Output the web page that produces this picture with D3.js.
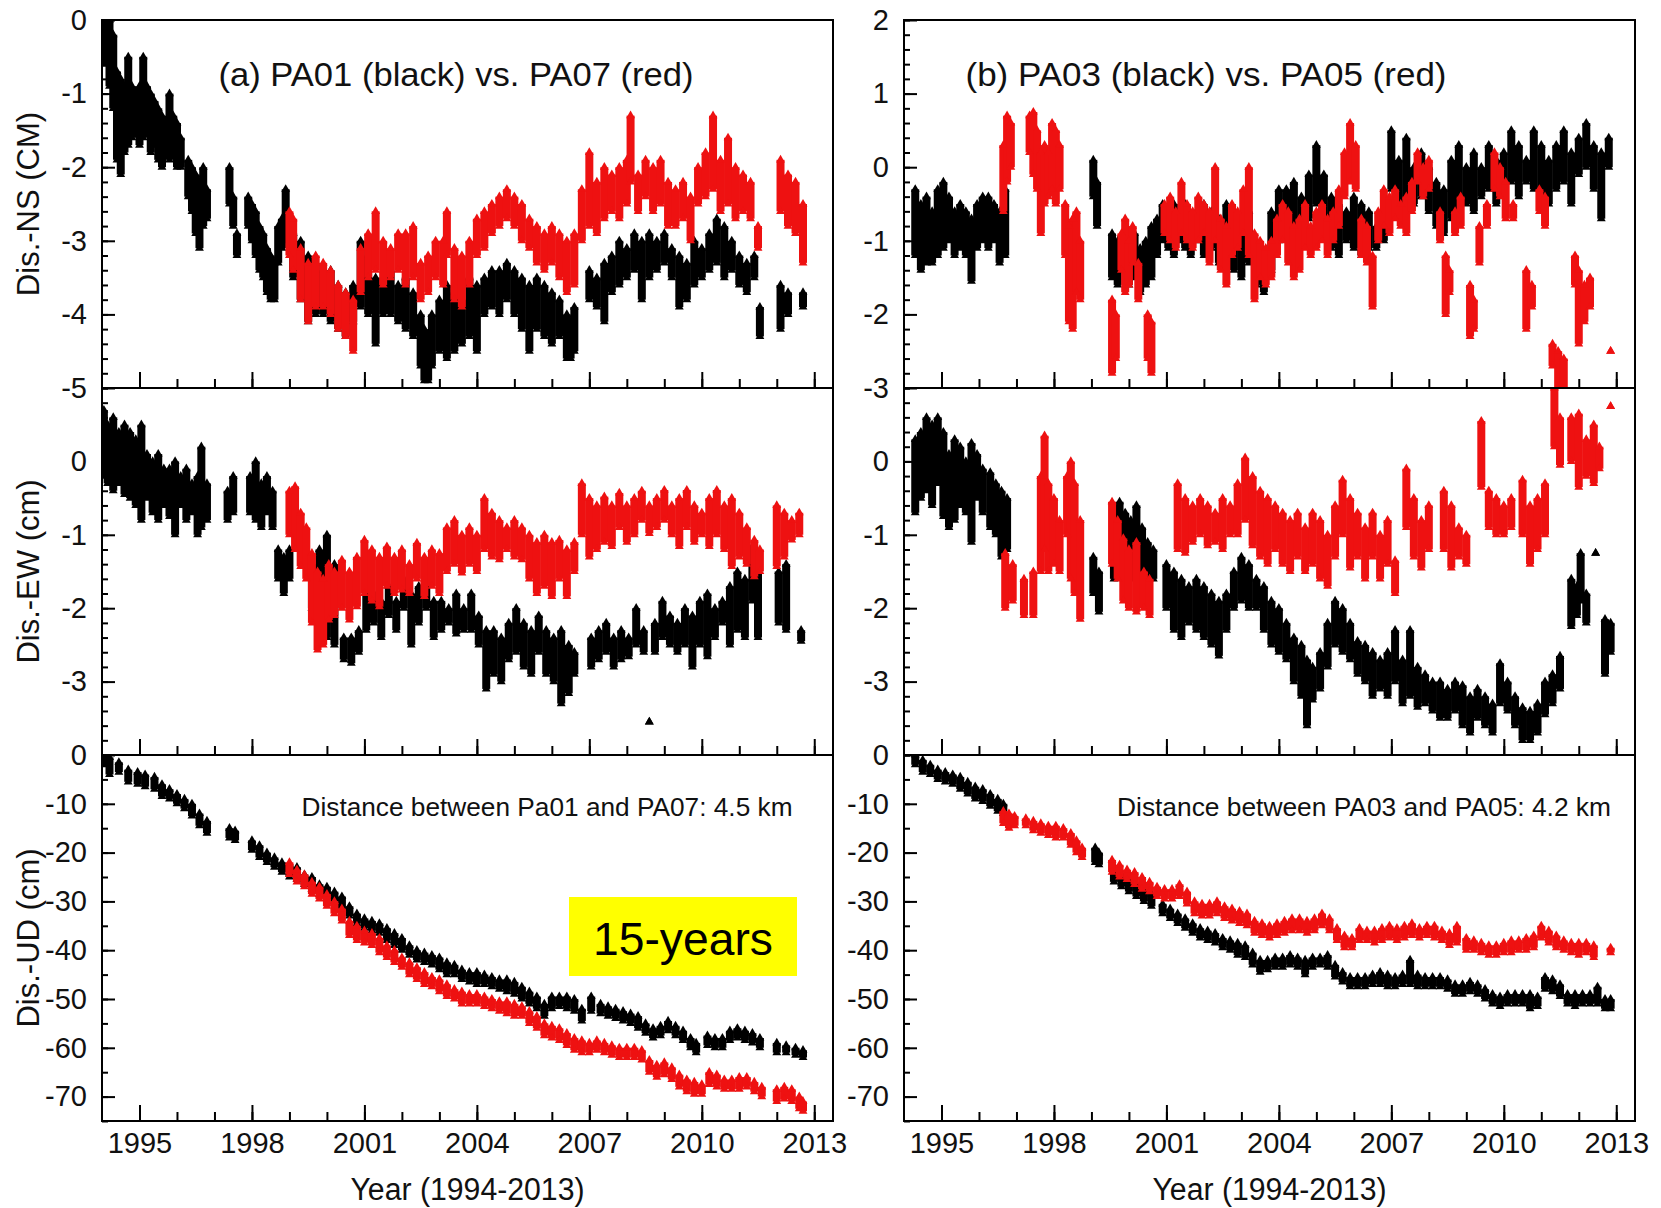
<!DOCTYPE html>
<html lang="en">
<head>
<meta charset="UTF-8">
<title>PA01/PA07 and PA03/PA05 displacement</title>
<script src="https://d3js.org/d3.v7.min.js"></script>
<style>
  body { margin: 0; background: #fff; }
  svg { display: block; }
  text { font-family: "Liberation Sans", Arial, sans-serif; fill: #111; }
</style>
</head>
<body>
<svg width="1661" height="1208"></svg>
<script>
// tick labels
const xTickYears = [1995, 1998, 2001, 2004, 2007, 2010, 2013];
const nsLeftTicks = [0, -1, -2, -3, -4, -5];
const nsRightTicks = [2, 1, 0, -1, -2, -3];
const ewTicks = [0, -1, -2, -3];
const udTicks = [0, -10, -20, -30, -40, -50, -60, -70];

// each entry: [year, value at one end of the scatter, value at the other end]
const pa01NS = [
  [1994.1,0,-0.6],[1994.2,0,-0.9],[1994.3,-0.2,-1.2],[1994.4,-0.7,-1.9],[1994.5,-0.8,-2.1],[1994.6,-0.9,-1.8],
  [1994.7,-0.5,-1.7],[1994.8,-0.9,-1.6],[1994.9,-1.0,-1.5],[1995.0,-0.9,-1.7],[1995.1,-0.5,-1.6],[1995.2,-0.9,-1.5],
  [1995.3,-1.0,-1.8],[1995.4,-1.1,-1.7],[1995.5,-1.2,-1.9],[1995.6,-1.3,-2.0],[1995.8,-1.0,-1.9],[1995.9,-1.3,-1.8],
  [1996.0,-1.4,-2.0],[1996.1,-1.6,-2.0],[1996.3,-1.9,-2.4],[1996.4,-2.0,-2.6],[1996.5,-2.1,-2.9],[1996.6,-2.2,-3.1],
  [1996.7,-2.0,-2.8],[1996.8,-2.3,-2.7],[1997.4,-2.0,-2.5],[1997.5,-2.4,-2.8],[1997.6,-2.9,-3.2],[1997.9,-2.4,-2.8],
  [1998.0,-2.5,-3.0],[1998.1,-2.6,-3.2],[1998.2,-2.8,-3.4],[1998.3,-2.9,-3.5],[1998.4,-3.1,-3.7],[1998.5,-3.2,-3.8],
  [1998.6,-3.3,-3.8],[1998.7,-2.8,-3.3],[1998.8,-2.7,-3.1],[1998.9,-2.3,-3.0],[1999.1,-2.9,-3.5],[1999.3,-3.0,-3.8],
  [1999.5,-3.2,-4.1],[1999.7,-3.3,-4.0],[1999.9,-3.4,-4.0],[2000.1,-3.4,-4.1],[2000.3,-3.6,-4.2],[2000.5,-3.7,-4.3],
  [2000.7,-3.6,-4.1],[2000.9,-3.0,-3.9],[2001.1,-3.2,-4.0],[2001.3,-3.5,-4.4],[2001.5,-3.5,-4.0],[2001.7,-3.4,-4.0],
  [2001.9,-3.6,-4.1],[2002.1,-3.5,-4.2],[2002.3,-3.7,-4.3],[2002.5,-4.0,-4.7],[2002.6,-4.2,-4.9],[2002.7,-4.3,-4.9],
  [2002.8,-4.0,-4.7],[2003.0,-3.8,-4.5],[2003.2,-3.6,-4.6],[2003.4,-3.7,-4.5],[2003.6,-3.8,-4.4],[2003.8,-3.5,-4.3],
  [2004.0,-3.6,-4.5],[2004.2,-3.5,-4.0],[2004.4,-3.4,-3.9],[2004.6,-3.4,-4.0],[2004.8,-3.3,-3.8],[2005.0,-3.4,-4.0],
  [2005.2,-3.5,-4.2],[2005.4,-3.6,-4.5],[2005.6,-3.5,-4.2],[2005.8,-3.6,-4.3],[2006.0,-3.7,-4.4],[2006.2,-3.8,-4.3],
  [2006.4,-4.0,-4.6],[2006.5,-4.1,-4.6],[2006.6,-3.9,-4.5],[2007.0,-3.4,-3.8],[2007.2,-3.5,-3.9],[2007.4,-3.3,-4.1],
  [2007.6,-3.2,-3.7],[2007.8,-3.0,-3.6],[2008.0,-3.1,-3.5],[2008.2,-2.9,-3.4],[2008.4,-3.0,-3.8],[2008.6,-2.9,-3.5],
  [2008.8,-3.0,-3.4],[2009.0,-2.9,-3.3],[2009.2,-3.1,-3.5],[2009.4,-3.2,-3.9],[2009.6,-3.3,-3.8],[2009.8,-3.0,-3.6],
  [2010.0,-3.1,-3.5],[2010.2,-2.9,-3.4],[2010.4,-2.7,-3.3],[2010.6,-2.8,-3.5],[2010.8,-3.0,-3.4],[2011.0,-3.2,-3.6],
  [2011.2,-3.3,-3.7],[2011.4,-3.2,-3.5],[2011.55,-3.9,-4.3],[2012.1,-3.6,-4.2],[2012.3,-3.7,-4.0],[2012.7,-3.7,-3.9]
];
const pa07NS = [
  [1999.0,-2.6,-3.2],[1999.1,-2.7,-3.4],[1999.3,-3.1,-3.8],[1999.5,-3.3,-4.1],[1999.7,-3.2,-3.9],[1999.9,-3.3,-3.9],
  [2000.1,-3.4,-4.0],[2000.3,-3.6,-4.2],[2000.5,-3.7,-4.3],[2000.7,-3.8,-4.5],[2000.9,-3.1,-3.7],[2001.1,-2.9,-3.5],
  [2001.3,-2.6,-3.4],[2001.5,-3.0,-3.6],[2001.7,-3.1,-3.5],[2001.9,-2.9,-3.4],[2002.1,-2.9,-3.6],[2002.3,-2.8,-3.5],
  [2002.5,-3.3,-3.8],[2002.7,-3.2,-3.7],[2002.9,-3.0,-3.5],[2003.1,-3.0,-3.6],[2003.2,-2.6,-3.2],[2003.4,-3.1,-3.8],
  [2003.6,-3.2,-3.9],[2003.8,-3.0,-3.6],[2004.0,-2.7,-3.2],[2004.2,-2.6,-3.1],[2004.4,-2.5,-2.9],[2004.6,-2.4,-2.8],
  [2004.8,-2.3,-2.7],[2005.0,-2.4,-2.8],[2005.2,-2.5,-3.0],[2005.4,-2.7,-3.1],[2005.6,-2.8,-3.3],[2005.8,-2.9,-3.4],
  [2006.0,-2.8,-3.3],[2006.2,-2.9,-3.5],[2006.4,-3.0,-3.7],[2006.6,-2.9,-3.6],[2006.8,-2.3,-3.0],[2007.0,-1.8,-2.8],
  [2007.2,-2.2,-2.9],[2007.4,-2.0,-2.7],[2007.6,-2.1,-2.6],[2007.8,-2.0,-2.7],[2008.0,-1.9,-2.5],[2008.1,-1.3,-2.2],
  [2008.3,-2.1,-2.6],[2008.5,-1.9,-2.4],[2008.7,-2.0,-2.6],[2008.9,-1.9,-2.5],[2009.1,-2.2,-2.8],[2009.3,-2.3,-2.8],
  [2009.5,-2.2,-2.7],[2009.7,-2.4,-3.0],[2009.9,-2.0,-2.5],[2010.1,-1.8,-2.4],[2010.3,-1.3,-2.3],[2010.5,-1.9,-2.6],
  [2010.7,-1.6,-2.5],[2010.9,-2.0,-2.7],[2011.1,-2.1,-2.6],[2011.3,-2.2,-2.7],[2011.5,-2.8,-3.1],[2012.1,-1.9,-2.6],
  [2012.3,-2.1,-2.8],[2012.5,-2.2,-2.9],[2012.7,-2.5,-3.3]
];
const pa03NS = [
  [1994.3,-0.3,-1.2],[1994.45,-0.5,-1.4],[1994.6,-0.4,-1.3],[1994.75,-0.6,-1.3],[1994.9,-0.3,-1.2],[1995.05,-0.2,-1.1],
  [1995.2,-0.4,-1.0],[1995.35,-0.6,-1.2],[1995.5,-0.5,-1.1],[1995.65,-0.6,-1.2],[1995.8,-0.7,-1.55],[1995.95,-0.5,-1.1],
  [1996.1,-0.4,-1.0],[1996.25,-0.4,-1.1],[1996.4,-0.5,-1.0],[1996.55,-0.6,-1.3],[1996.7,-0.3,-1.2],[1999.05,0.1,-0.4],
  [1999.15,-0.2,-0.8],[1999.55,-0.9,-1.5],[1999.7,-1.0,-1.6],[1999.85,-1.1,-1.4],[2000.0,-1.0,-1.6],[2000.15,-0.9,-1.5],
  [2000.3,-1.1,-1.7],[2000.45,-1.0,-1.6],[2000.6,-0.8,-1.5],[2000.75,-0.7,-1.2],[2000.9,-0.5,-1.0],[2001.05,-0.6,-1.1],
  [2001.2,-0.5,-1.2],[2001.35,-0.6,-1.0],[2001.5,-0.5,-1.1],[2001.65,-0.7,-1.2],[2001.8,-0.6,-1.0],[2002.0,-0.5,-1.2],
  [2002.2,-0.6,-1.1],[2002.4,-0.7,-1.3],[2002.6,-0.5,-1.1],[2002.8,-0.7,-1.4],[2003.0,-0.8,-1.5],[2003.2,-0.6,-1.3],
  [2003.4,-1.0,-1.6],[2003.6,-1.2,-1.7],[2003.8,-0.6,-1.4],[2004.0,-0.3,-1.0],[2004.2,-0.3,-0.9],[2004.4,-0.2,-0.8],
  [2004.6,-0.4,-1.0],[2004.8,-0.1,-0.7],[2005.0,0.3,-0.5],[2005.2,-0.1,-0.8],[2005.4,-0.4,-1.1],[2005.6,-0.5,-1.2],
  [2005.8,-0.6,-1.0],[2006.0,-0.4,-1.1],[2006.2,-0.5,-1.2],[2006.4,-0.6,-1.1],[2006.6,-0.8,-1.1],[2006.8,-0.6,-1.0],
  [2007.0,0.5,-0.3],[2007.2,0.1,-0.5],[2007.4,0.4,-0.6],[2007.6,0.0,-0.5],[2007.8,0.2,-0.4],[2008.0,0.0,-0.6],
  [2008.2,-0.2,-0.8],[2008.4,-0.3,-0.9],[2008.6,0.1,-0.7],[2008.8,0.3,-0.6],[2009.0,0.0,-0.5],[2009.2,0.2,-0.6],
  [2009.4,0.0,-0.4],[2009.6,0.3,-0.3],[2009.8,0.1,-0.5],[2010.0,0.2,-0.3],[2010.2,0.5,-0.2],[2010.4,0.3,-0.4],
  [2010.6,0.1,-0.2],[2010.8,0.5,-0.3],[2011.0,0.3,-0.4],[2011.2,0.1,-0.5],[2011.4,0.3,-0.3],[2011.6,0.5,-0.2],
  [2011.8,0.2,-0.5],[2012.0,0.4,-0.1],[2012.2,0.6,0.0],[2012.4,0.3,-0.3],[2012.6,0.2,-0.7],[2012.8,0.4,0.0]
];
const pa05NS = [
  [1996.65,0.3,-0.6],[1996.75,0.7,-0.2],[1996.85,0.6,0.0],[1997.35,0.7,0.2],[1997.45,0.75,-0.1],[1997.55,0.5,-0.3],
  [1997.65,0.2,-0.9],[1997.75,0.3,-0.5],[1997.85,0.2,-0.4],[1997.95,0.6,-0.3],[1998.05,0.5,-0.5],[1998.15,0.3,-0.3],
  [1998.3,-0.5,-1.2],[1998.4,-0.8,-2.1],[1998.5,-0.7,-2.2],[1998.6,-0.6,-1.7],[1998.7,-1.0,-1.8],[1999.55,-1.8,-2.8],
  [1999.65,-2.0,-2.6],[1999.8,-0.9,-1.4],[1999.9,-0.7,-1.7],[2000.0,-1.0,-1.6],[2000.1,-0.8,-1.3],[2000.25,-1.3,-1.8],
  [2000.5,-2.0,-2.6],[2000.6,-2.1,-2.8],[2000.95,-0.5,-0.9],[2001.1,-0.4,-1.0],[2001.25,-0.6,-1.1],[2001.4,-0.2,-0.9],
  [2001.55,-0.5,-1.0],[2001.7,-0.6,-1.1],[2001.85,-0.4,-1.0],[2002.0,-0.5,-0.9],[2002.15,-0.6,-1.3],[2002.3,0.0,-1.0],
  [2002.45,-0.7,-1.4],[2002.6,-0.8,-1.6],[2002.75,-0.5,-1.2],[2002.9,-0.6,-1.1],[2003.05,-0.3,-0.9],[2003.2,0.0,-1.2],
  [2003.35,-0.9,-1.8],[2003.5,-1.0,-1.5],[2003.65,-1.1,-1.6],[2003.8,-1.0,-1.5],[2003.95,-0.7,-1.2],[2004.1,-0.5,-1.0],
  [2004.25,-0.6,-1.3],[2004.4,-0.8,-1.5],[2004.55,-0.7,-1.4],[2004.7,-0.5,-1.1],[2004.85,-0.8,-1.2],[2005.0,-0.6,-1.1],
  [2005.15,-0.5,-1.0],[2005.3,-0.7,-1.2],[2005.45,-0.6,-1.0],[2005.6,-0.3,-0.8],[2005.75,0.2,-0.4],[2005.9,0.6,-0.2],
  [2006.05,0.3,-0.3],[2006.2,-0.7,-1.2],[2006.35,-0.8,-1.3],[2006.5,-1.2,-1.9],[2006.65,-0.6,-1.0],[2006.8,-0.3,-0.8],
  [2006.95,-0.4,-0.9],[2007.1,-0.3,-0.7],[2007.25,-0.5,-0.8],[2007.4,-0.4,-0.9],[2007.55,-0.2,-0.6],[2007.7,0.2,-0.2],
  [2007.85,0.0,-0.4],[2008.0,0.1,-0.3],[2008.3,-0.6,-1.0],[2008.45,-1.2,-2.0],[2008.55,-1.4,-1.7],[2008.7,-0.6,-0.9],
  [2008.85,-0.4,-0.8],[2009.1,-1.6,-2.3],[2009.2,-1.8,-2.2],[2009.35,-0.8,-1.3],[2009.55,-0.5,-0.8],[2009.75,0.2,-0.3],
  [2009.9,0.0,-0.4],[2010.05,-0.2,-0.7],[2010.25,-0.5,-0.7],[2010.6,-1.4,-2.2],[2010.75,-1.6,-1.9],[2010.95,-0.3,-0.6],
  [2011.1,-0.4,-0.8],[2011.3,-2.4,-2.7],[2011.45,-2.5,-3.0],[2011.6,-2.6,-3.2],[2011.9,-1.2,-1.6],[2012.0,-1.4,-2.4],
  [2012.15,-1.6,-2.1],[2012.3,-1.5,-1.9],[2012.85,-2.5,-2.5]
];
const pa01EW = [
  [1994.05,0.7,-0.2],[1994.15,0.5,-0.3],[1994.3,0.6,-0.4],[1994.45,0.4,-0.3],[1994.6,0.5,-0.45],[1994.75,0.4,-0.5],
  [1994.9,0.3,-0.6],[1995.05,0.5,-0.8],[1995.2,0.1,-0.5],[1995.35,0.0,-0.7],[1995.5,0.1,-0.8],[1995.65,-0.1,-0.6],
  [1995.8,-0.1,-0.75],[1995.95,0.0,-1.0],[1996.1,-0.2,-0.6],[1996.25,-0.1,-0.8],[1996.4,-0.3,-0.7],[1996.55,-0.2,-1.0],
  [1996.65,0.2,-0.9],[1996.8,-0.3,-0.8],[1997.35,-0.4,-0.8],[1997.5,-0.2,-0.7],[1997.95,-0.2,-0.7],[1998.1,0.0,-0.8],
  [1998.25,-0.3,-0.9],[1998.4,-0.2,-0.7],[1998.55,-0.4,-0.9],[1998.7,-1.2,-1.6],[1998.85,-1.3,-1.8],[1999.0,-1.2,-1.6],
  [1999.6,-1.4,-2.0],[1999.8,-1.2,-2.2],[2000.0,-1.0,-2.4],[2000.2,-1.4,-2.5],[2000.45,-2.4,-2.7],[2000.65,-2.4,-2.75],
  [2000.85,-2.3,-2.6],[2001.05,-1.7,-2.3],[2001.25,-1.8,-2.2],[2001.45,-1.9,-2.4],[2001.65,-1.7,-2.1],[2001.85,-1.9,-2.3],
  [2002.05,-1.6,-2.0],[2002.25,-1.8,-2.5],[2002.45,-1.7,-2.2],[2002.65,-1.6,-2.0],[2002.85,-1.9,-2.4],[2003.05,-1.9,-2.3],
  [2003.25,-2.0,-2.2],[2003.45,-1.8,-2.35],[2003.65,-2.0,-2.3],[2003.85,-1.8,-2.3],[2004.05,-2.1,-2.5],[2004.25,-2.3,-3.1],
  [2004.45,-2.3,-2.9],[2004.65,-2.4,-3.0],[2004.85,-2.2,-2.7],[2005.05,-2.0,-2.6],[2005.25,-2.2,-2.8],[2005.45,-2.3,-2.9],
  [2005.65,-2.1,-2.6],[2005.85,-2.3,-2.9],[2006.05,-2.4,-3.0],[2006.25,-2.3,-3.3],[2006.45,-2.5,-3.16],[2006.6,-2.6,-2.9],
  [2007.05,-2.4,-2.8],[2007.25,-2.3,-2.7],[2007.45,-2.2,-2.6],[2007.65,-2.4,-2.8],[2007.85,-2.3,-2.7],[2008.05,-2.4,-2.66],
  [2008.25,-2.0,-2.5],[2008.45,-2.3,-2.6],[2008.6,-3.55,-3.55],[2008.75,-2.2,-2.6],[2008.95,-1.9,-2.4],[2009.15,-2.1,-2.5],
  [2009.35,-2.2,-2.6],[2009.55,-2.0,-2.5],[2009.75,-2.1,-2.8],[2009.95,-1.9,-2.5],[2010.15,-1.8,-2.66],[2010.35,-2.0,-2.4],
  [2010.55,-1.9,-2.2],[2010.75,-1.7,-2.5],[2010.95,-1.5,-2.3],[2011.15,-1.6,-2.4],[2011.35,-1.16,-1.9],[2011.5,-1.4,-2.4],
  [2012.05,-1.5,-2.2],[2012.25,-1.4,-2.3],[2012.65,-2.3,-2.45]
];
const pa07EW = [
  [1999.0,-0.4,-1.0],[1999.15,-0.34,-1.2],[1999.3,-0.7,-1.43],[1999.45,-0.9,-1.6],[1999.6,-1.25,-2.2],[1999.75,-1.5,-2.57],
  [1999.9,-1.6,-2.5],[2000.05,-1.4,-2.16],[2000.2,-1.5,-2.1],[2000.4,-1.34,-2.0],[2000.6,-1.5,-2.16],[2000.8,-1.3,-1.98],
  [2001.0,-1.07,-1.8],[2001.2,-1.2,-1.9],[2001.4,-1.3,-1.98],[2001.6,-1.16,-1.7],[2001.8,-1.3,-1.8],[2002.0,-1.2,-1.75],
  [2002.2,-1.4,-1.8],[2002.4,-1.11,-1.6],[2002.6,-1.3,-1.84],[2002.8,-1.2,-1.7],[2003.0,-1.25,-1.8],[2003.2,-0.9,-1.5],
  [2003.4,-0.8,-1.4],[2003.6,-1.0,-1.52],[2003.8,-0.9,-1.4],[2004.0,-1.0,-1.5],[2004.2,-0.5,-1.2],[2004.4,-0.7,-1.3],
  [2004.6,-0.8,-1.34],[2004.8,-0.9,-1.2],[2005.0,-0.8,-1.3],[2005.2,-0.9,-1.34],[2005.4,-1.0,-1.6],[2005.6,-1.1,-1.8],
  [2005.8,-1.0,-1.7],[2006.0,-1.1,-1.84],[2006.2,-1.07,-1.6],[2006.4,-1.2,-1.84],[2006.6,-1.1,-1.5],[2006.8,-0.3,-1.0],
  [2007.0,-0.5,-1.3],[2007.2,-0.6,-1.2],[2007.4,-0.48,-1.1],[2007.6,-0.6,-1.16],[2007.8,-0.43,-0.9],[2008.0,-0.6,-1.1],
  [2008.2,-0.5,-1.0],[2008.4,-0.4,-0.8],[2008.6,-0.6,-0.98],[2008.8,-0.5,-0.9],[2009.0,-0.39,-0.8],[2009.2,-0.6,-1.0],
  [2009.4,-0.5,-1.16],[2009.6,-0.39,-0.9],[2009.8,-0.6,-1.1],[2010.0,-0.7,-1.0],[2010.2,-0.5,-1.16],[2010.4,-0.39,-1.0],
  [2010.6,-0.6,-1.2],[2010.8,-0.5,-1.43],[2011.0,-0.7,-1.3],[2011.2,-0.9,-1.4],[2011.4,-1.07,-1.57],[2011.55,-1.2,-1.5],
  [2012.0,-0.6,-1.43],[2012.2,-0.7,-1.3],[2012.4,-0.8,-1.07],[2012.6,-0.7,-1.0]
];
const pa03EW = [
  [1994.3,0.3,-0.7],[1994.45,0.4,-0.5],[1994.6,0.6,-0.4],[1994.75,0.5,-0.6],[1994.9,0.6,-0.3],[1995.05,0.4,-0.75],
  [1995.2,0.1,-0.9],[1995.35,0.3,-0.8],[1995.5,0.2,-0.6],[1995.65,0.0,-0.7],[1995.8,0.25,-1.1],[1995.95,0.1,-0.5],
  [1996.1,-0.1,-0.7],[1996.3,-0.15,-0.9],[1996.45,-0.3,-1.0],[1996.6,-0.4,-1.3],[1996.75,-0.5,-1.2],[1999.05,-1.3,-1.8],
  [1999.2,-1.5,-2.05],[1999.6,-0.7,-1.6],[1999.75,-0.55,-1.5],[1999.9,-0.7,-1.8],[2000.05,-0.8,-1.6],[2000.2,-0.6,-1.4],
  [2000.35,-0.9,-1.7],[2000.5,-1.1,-1.8],[2000.65,-1.2,-1.6],[2001.0,-1.4,-2.0],[2001.2,-1.5,-2.3],[2001.4,-1.6,-2.4],
  [2001.6,-1.7,-2.2],[2001.8,-1.6,-2.3],[2002.0,-1.7,-2.4],[2002.2,-1.8,-2.5],[2002.4,-1.9,-2.65],[2002.6,-1.8,-2.3],
  [2002.8,-1.5,-2.0],[2003.0,-1.3,-1.9],[2003.2,-1.4,-2.0],[2003.4,-1.6,-2.0],[2003.6,-1.7,-2.3],[2003.8,-1.9,-2.5],
  [2004.0,-2.0,-2.6],[2004.2,-2.2,-2.7],[2004.4,-2.4,-3.0],[2004.6,-2.5,-3.2],[2004.75,-2.7,-3.6],[2004.9,-2.8,-3.25],
  [2005.1,-2.6,-3.1],[2005.3,-2.2,-2.8],[2005.5,-1.9,-2.5],[2005.7,-2.0,-2.6],[2005.9,-2.2,-2.7],[2006.1,-2.45,-2.9],
  [2006.3,-2.5,-3.0],[2006.5,-2.6,-3.2],[2006.7,-2.7,-3.1],[2006.9,-2.6,-3.2],[2007.1,-2.3,-3.0],[2007.3,-2.7,-3.3],
  [2007.5,-2.3,-3.2],[2007.7,-2.8,-3.35],[2007.9,-2.9,-3.3],[2008.1,-3.0,-3.4],[2008.3,-3.0,-3.5],[2008.5,-3.1,-3.5],
  [2008.7,-3.0,-3.4],[2008.9,-3.05,-3.6],[2009.1,-3.2,-3.7],[2009.3,-3.1,-3.5],[2009.5,-3.2,-3.6],[2009.7,-3.3,-3.7],
  [2009.9,-2.75,-3.3],[2010.1,-3.0,-3.4],[2010.3,-3.2,-3.6],[2010.5,-3.35,-3.8],[2010.7,-3.4,-3.8],[2010.9,-3.3,-3.7],
  [2011.1,-3.0,-3.45],[2011.3,-2.9,-3.3],[2011.5,-2.65,-3.1],[2011.8,-1.6,-2.25],[2011.95,-1.7,-2.1],[2012.05,-1.25,-1.9],
  [2012.2,-1.8,-2.2],[2012.45,-1.25,-1.25],[2012.7,-2.15,-2.9],[2012.85,-2.2,-2.6]
];
const pa05EW = [
  [1996.7,-1.25,-2.0],[1996.9,-1.4,-1.9],[1997.2,-1.6,-2.1],[1997.45,-1.5,-2.1],[1997.65,-0.2,-1.5],[1997.75,0.35,-1.2],
  [1997.85,-0.3,-1.5],[1998.0,-0.5,-1.4],[1998.15,-0.8,-1.5],[1998.35,-0.2,-1.0],[1998.45,0.0,-1.6],[1998.55,-0.3,-1.8],
  [1998.7,-0.8,-2.15],[1999.55,-0.55,-1.4],[1999.7,-0.8,-1.6],[1999.85,-1.05,-1.9],[2000.0,-1.2,-2.0],[2000.2,-1.1,-2.05],
  [2000.4,-1.5,-2.0],[2000.55,-1.6,-2.1],[2001.3,-0.3,-1.2],[2001.5,-0.5,-1.25],[2001.7,-0.6,-1.1],[2001.9,-0.5,-1.0],
  [2002.1,-0.6,-1.15],[2002.3,-0.7,-1.1],[2002.5,-0.5,-1.2],[2002.7,-0.6,-1.0],[2002.9,-0.3,-1.0],[2003.1,0.05,-0.8],
  [2003.3,-0.2,-1.15],[2003.5,-0.4,-1.3],[2003.7,-0.5,-1.4],[2003.9,-0.6,-1.2],[2004.1,-0.7,-1.4],[2004.3,-0.8,-1.5],
  [2004.5,-0.7,-1.3],[2004.7,-0.9,-1.5],[2004.9,-0.7,-1.4],[2005.1,-0.8,-1.6],[2005.3,-1.0,-1.7],[2005.5,-0.6,-1.3],
  [2005.7,-0.25,-1.0],[2005.9,-0.5,-1.45],[2006.1,-0.7,-1.3],[2006.3,-0.9,-1.6],[2006.5,-0.7,-1.3],[2006.7,-1.0,-1.6],
  [2006.9,-0.8,-1.4],[2007.1,-1.35,-1.8],[2007.4,-0.1,-0.9],[2007.6,-0.5,-1.3],[2007.8,-0.8,-1.45],[2008.0,-0.6,-1.2],
  [2008.4,-0.4,-1.2],[2008.6,-0.6,-1.45],[2008.8,-0.9,-1.3],[2009.0,-1.0,-1.4],[2009.4,0.55,-0.35],[2009.6,-0.4,-0.9],
  [2009.8,-0.5,-1.0],[2010.0,-0.6,-1.0],[2010.2,-0.5,-0.9],[2010.5,-0.25,-1.0],[2010.7,-0.6,-1.4],[2010.9,-0.5,-1.2],
  [2011.1,-0.3,-1.0],[2011.35,1.0,0.2],[2011.5,0.6,-0.05],[2011.8,0.6,0.0],[2012.0,0.65,-0.35],[2012.2,0.3,-0.2],
  [2012.4,0.5,-0.3],[2012.55,0.2,-0.1],[2012.85,0.75,0.75]
];
const pa01UD = [
  [1994.05,0,-2],[1994.2,-0.5,-4],[1994.45,-1.5,-3.5],[1994.7,-3,-5.5],[1994.95,-3.5,-6],[1995.15,-4,-6.5],[1995.4,-4.5,-7],
  [1995.6,-6,-8.5],[1995.8,-7,-9],[1996.0,-8,-10],[1996.2,-9,-11],[1996.4,-10,-12.5],[1996.6,-12,-14.5],[1996.8,-13.5,-16],
  [1997.4,-15,-17],[1997.55,-15.5,-17.5],[1998.0,-17.5,-19.5],[1998.2,-18.5,-21],[1998.4,-20,-22],[1998.6,-21,-23],
  [1998.8,-22,-24],[1999.0,-22.5,-25],[1999.2,-23,-25.5],[1999.4,-24.5,-26.5],[1999.6,-25,-27.5],[1999.8,-26.5,-28.5],
  [2000.0,-27,-29],[2000.2,-28,-30],[2000.4,-29,-31.5],[2000.6,-31,-33],[2000.8,-32.5,-34.5],[2001.0,-33.5,-35.5],
  [2001.2,-34,-36],[2001.4,-34.5,-36.5],[2001.6,-35.5,-38],[2001.8,-36.5,-39],[2002.0,-37.5,-40],[2002.2,-39,-41],
  [2002.4,-40,-42],[2002.6,-40.5,-42.5],[2002.8,-41,-43],[2003.0,-41.5,-44],[2003.2,-42.5,-45],[2003.4,-43,-45],
  [2003.6,-44,-46],[2003.8,-44.5,-46.5],[2004.0,-44.5,-47],[2004.2,-45,-47],[2004.4,-45.5,-47.5],[2004.6,-46,-48],
  [2004.8,-46,-48.5],[2005.0,-46.5,-49],[2005.2,-47.5,-50],[2005.4,-48.5,-51],[2005.6,-49.5,-52],[2005.8,-51,-53.5],
  [2006.0,-49.5,-52],[2006.2,-49.5,-51.5],[2006.4,-49.5,-52],[2006.6,-50,-52.5],[2006.8,-52,-54.5],[2007.05,-49.5,-52.5],
  [2007.3,-51,-53],[2007.5,-51.5,-53.5],[2007.7,-52,-54],[2007.9,-52.5,-54.5],[2008.1,-53,-55],[2008.3,-53.5,-56],
  [2008.5,-55,-57],[2008.7,-56,-58],[2008.9,-55.5,-57.5],[2009.1,-54.5,-56.5],[2009.3,-55.5,-57.5],[2009.5,-56.5,-58.5],
  [2009.7,-58,-60],[2009.85,-59,-61],[2010.15,-57.5,-59.5],[2010.35,-58,-60],[2010.55,-58,-60],[2010.75,-56.5,-58.5],
  [2010.95,-56,-58],[2011.15,-56.5,-58.5],[2011.35,-57,-59],[2011.55,-58,-60],[2012.0,-59,-61],[2012.25,-59.5,-61],
  [2012.5,-60,-61.5],[2012.7,-60.5,-62]
];
const pa07UD = [
  [1999.0,-22,-24.5],[1999.2,-23.5,-26],[1999.4,-24.5,-27],[1999.6,-26,-28.5],[1999.8,-27,-29.5],[2000.0,-28.5,-31],
  [2000.2,-30,-32.5],[2000.4,-31.5,-34],[2000.6,-34,-37],[2000.8,-35,-38],[2001.0,-36,-38.5],[2001.2,-36.5,-39],
  [2001.4,-37.5,-40.5],[2001.6,-39,-41.5],[2001.8,-40,-42.5],[2002.0,-41.5,-43.5],[2002.2,-42.5,-45],[2002.4,-43.5,-46],
  [2002.6,-44.5,-47],[2002.8,-45.5,-47.5],[2003.0,-46,-48.5],[2003.2,-47,-49.5],[2003.4,-48,-50],[2003.6,-48.5,-51],
  [2003.8,-49,-51],[2004.0,-49,-51],[2004.2,-49.5,-51.5],[2004.4,-50,-52],[2004.6,-50.5,-52.5],[2004.8,-50.5,-53],
  [2005.0,-51,-53.5],[2005.2,-51.5,-53.5],[2005.4,-52.5,-55],[2005.6,-53.5,-56],[2005.8,-55,-57.5],[2006.0,-55.5,-58],
  [2006.2,-56,-58.5],[2006.4,-57,-59.5],[2006.6,-58,-60.5],[2006.8,-58.5,-61],[2007.0,-59,-61],[2007.2,-58.5,-60.5],
  [2007.4,-59,-61],[2007.6,-59.5,-61.5],[2007.8,-60,-62],[2008.0,-60,-62],[2008.2,-60,-62],[2008.4,-60.5,-62.5],
  [2008.6,-62.5,-65],[2008.8,-63.5,-66],[2009.0,-63,-65.5],[2009.2,-64,-66.5],[2009.4,-65.5,-68],[2009.6,-66.5,-69],
  [2009.8,-67,-69.5],[2010.0,-67.5,-69.5],[2010.2,-65,-67.5],[2010.4,-65.5,-68],[2010.6,-66.5,-68.5],[2010.8,-66.5,-68.5],
  [2011.0,-66,-68.5],[2011.2,-66,-68],[2011.4,-67,-69],[2011.6,-68,-70],[2012.0,-68.5,-71],[2012.2,-68,-70.5],
  [2012.4,-68.5,-71],[2012.6,-70,-72.5],[2012.7,-71,-73]
];
const pa03UD = [
  [1994.3,0,-2],[1994.5,-1,-3.5],[1994.7,-2,-4],[1994.9,-3,-5],[1995.1,-3.5,-5.5],[1995.3,-4,-6],[1995.5,-4.5,-7],
  [1995.7,-5.5,-8],[1995.9,-6.5,-9],[1996.1,-7,-9.5],[1996.3,-8,-10.5],[1996.5,-9,-11.5],[1996.65,-10,-12],
  [1999.1,-19,-22],[1999.2,-20,-22.5],[1999.6,-23.5,-26],[1999.8,-24.5,-27],[2000.0,-25.5,-28],[2000.2,-26.5,-29],
  [2000.4,-27.5,-30],[2000.6,-28.5,-31],[2000.9,-30.5,-32.5],[2001.1,-31.5,-33.5],[2001.3,-32.5,-34.5],[2001.5,-33.5,-35.5],
  [2001.7,-34.5,-36.5],[2001.9,-35.5,-37.5],[2002.1,-36,-38],[2002.3,-36.5,-38.5],[2002.5,-37.5,-39.5],[2002.7,-38,-40],
  [2002.9,-38.5,-41],[2003.1,-39,-41.5],[2003.3,-40.5,-43],[2003.5,-42,-44.5],[2003.7,-42,-44],[2003.9,-41.5,-43.5],
  [2004.1,-41.5,-43.5],[2004.3,-41,-43],[2004.5,-41.5,-43.5],[2004.7,-42,-45],[2004.9,-41.5,-43.5],[2005.1,-41.5,-43],
  [2005.3,-41,-43.5],[2005.5,-43,-45.5],[2005.7,-44.5,-46.5],[2005.9,-45.5,-47.5],[2006.1,-45.5,-47.5],[2006.3,-45.5,-47.5],
  [2006.5,-45,-47],[2006.7,-44.5,-47],[2006.9,-45,-47.5],[2007.1,-45.5,-47.5],[2007.3,-45,-47],[2007.5,-42,-47],
  [2007.7,-45,-47.5],[2007.9,-45.5,-47.5],[2008.1,-45.5,-47.5],[2008.3,-45.5,-47.5],[2008.5,-46,-48],[2008.7,-47,-49],
  [2008.9,-47,-49],[2009.1,-46.5,-48.5],[2009.3,-47,-49],[2009.5,-48,-50],[2009.7,-49,-51],[2009.9,-49.5,-51.5],
  [2010.1,-49,-51],[2010.3,-49,-51],[2010.5,-49,-51],[2010.7,-49,-52],[2010.9,-49.5,-51.5],[2011.1,-45.5,-48],
  [2011.3,-46,-48.5],[2011.5,-47,-49.5],[2011.7,-49,-51],[2011.9,-49,-51.5],[2012.1,-49,-51],[2012.3,-49,-51],
  [2012.5,-47.5,-51],[2012.7,-50,-52],[2012.85,-50,-52]
];
const pa05UD = [
  [1996.65,-11.5,-14],[1996.8,-12,-15],[1996.95,-12.5,-14.5],[1997.25,-13,-14.5],[1997.45,-13.5,-15.5],[1997.65,-14,-16],
  [1997.85,-14.5,-16.5],[1998.05,-14.5,-17],[1998.25,-15,-17],[1998.45,-16,-18.5],[1998.6,-17.5,-20],[1998.75,-19,-21],
  [1999.55,-21.5,-24],[1999.75,-22.5,-25],[1999.95,-23.5,-25.5],[2000.15,-24,-26.5],[2000.35,-25,-27.5],[2000.55,-26,-28],
  [2000.75,-27,-29],[2000.95,-27.5,-29.5],[2001.15,-27.5,-29.5],[2001.35,-26.5,-29],[2001.55,-28,-30.5],[2001.75,-30,-32.5],
  [2001.95,-30.5,-33],[2002.15,-30.5,-33],[2002.35,-30,-32.5],[2002.55,-31,-33.5],[2002.75,-31.5,-34],[2002.95,-32,-34.5],
  [2003.15,-32.5,-35],[2003.35,-34,-36.5],[2003.55,-34.5,-37],[2003.75,-35,-37.5],[2003.95,-34.5,-37],[2004.15,-34,-36.5],
  [2004.35,-33.5,-36],[2004.55,-33.5,-36],[2004.75,-34,-36.5],[2004.95,-33.5,-36],[2005.15,-32.5,-35],[2005.35,-33.5,-36],
  [2005.55,-35.5,-38],[2005.75,-37,-39.5],[2005.95,-37.5,-39.5],[2006.15,-35.5,-38],[2006.35,-36,-38],[2006.55,-36,-38.5],
  [2006.75,-35.5,-38],[2006.95,-35,-37.5],[2007.15,-35.5,-38],[2007.35,-35,-37.5],[2007.55,-34.5,-37],[2007.75,-35.5,-37.5],
  [2007.95,-35,-37],[2008.15,-35,-37.5],[2008.35,-36,-38],[2008.55,-36.5,-39],[2008.75,-35,-38.5],[2009.0,-37.5,-40],
  [2009.2,-38,-40],[2009.4,-38.5,-40.5],[2009.6,-39,-41],[2009.8,-39,-41],[2010.0,-38.5,-40.5],[2010.2,-38,-40.5],
  [2010.4,-38,-40],[2010.6,-37.5,-40],[2010.8,-37,-39.5],[2011.0,-35,-37.5],[2011.2,-36,-38.5],[2011.4,-37,-39.5],
  [2011.6,-38,-40],[2011.8,-38.5,-40.5],[2012.0,-38.5,-41],[2012.2,-38.5,-40.5],[2012.4,-39,-41.5],[2012.85,-39.5,-40.5]
];

const width = 1661, height = 1208;
const red = "#ee1111";
const xDomain = [1994, 2013.5];

const svg = d3.select("svg");
svg.append("rect").attr("width", width).attr("height", height).attr("fill", "#fff");

const cols = [{ x0: 102, x1: 833 }, { x0: 904, x1: 1635 }];
const rows = [{ y0: 20, y1: 388 }, { y0: 388, y1: 755 }, { y0: 755, y1: 1121 }];

const panels = [
  { col: 0, row: 0, domain: [-5, 0], ticks: nsLeftTicks, minor: 0.2, black: pa01NS, red: pa07NS, title: "Dis.-NS (CM)" },
  { col: 1, row: 0, domain: [-3, 2], ticks: nsRightTicks, minor: 0.2, black: pa03NS, red: pa05NS },
  { col: 0, row: 1, domain: [-4, 1], ticks: ewTicks, minor: 0.2, black: pa01EW, red: pa07EW, title: "Dis.-EW (cm)" },
  { col: 1, row: 1, domain: [-4, 1], ticks: ewTicks, minor: 0.2, black: pa03EW, red: pa05EW },
  { col: 0, row: 2, domain: [-75, 0], ticks: udTicks, minor: 5, black: pa01UD, red: pa07UD, title: "Dis.-UD (cm)" },
  { col: 1, row: 2, domain: [-75, 0], ticks: udTicks, minor: 5, black: pa03UD, red: pa05UD }
];

const tri = d3.symbol(d3.symbolTriangle, 34);

function styleAxis(g) {
  g.select(".domain").remove();
  g.attr("font-size", 29).attr("font-family", "'Liberation Sans', Arial, sans-serif");
  g.selectAll("line").attr("stroke", "#000").attr("stroke-width", 2);
  g.selectAll("text").attr("fill", "#111");
}

panels.forEach((p, i) => {
  const c = cols[p.col], r = rows[p.row];
  const x = d3.scaleLinear().domain(xDomain).range([c.x0, c.x1]);
  const y = d3.scaleLinear().domain(p.domain).range([r.y1, r.y0]);
  const g = svg.append("g");

  svg.append("clipPath").attr("id", "clip" + i)
    .append("rect").attr("x", c.x0).attr("y", r.y0)
    .attr("width", c.x1 - c.x0).attr("height", r.y1 - r.y0);
  const plot = g.append("g").attr("clip-path", `url(#clip${i})`);

  [[p.black, "#000"], [p.red, red]].forEach(([data, color]) => {
    plot.append("g").selectAll("line").data(data).join("line")
      .attr("x1", d => x(d[0])).attr("x2", d => x(d[0]))
      .attr("y1", d => y(d[1])).attr("y2", d => y(d[2]))
      .attr("stroke", color).attr("stroke-width", 8);
    plot.append("g").selectAll("path")
      .data(data.flatMap(d => [[d[0], d[1]], [d[0], d[2]]]))
      .join("path")
      .attr("d", tri)
      .attr("transform", d => `translate(${x(d[0])},${y(d[1])})`)
      .attr("fill", color);
  });

  // x ticks: one every year, longer with labels every three years
  g.append("g").attr("transform", `translate(0,${r.y1})`)
    .call(d3.axisBottom(x).tickValues(d3.range(1995, 2014)).tickSizeInner(-9).tickSizeOuter(0).tickFormat(""))
    .call(styleAxis);
  g.append("g").attr("transform", `translate(0,${r.y1})`)
    .call(d3.axisBottom(x).tickValues(xTickYears).tickSizeInner(-16).tickSizeOuter(0).tickPadding(11)
      .tickFormat(p.row === 2 ? d => String(d) : ""))
    .call(styleAxis);

  // y ticks
  const [lo, hi] = p.domain;
  g.append("g").attr("transform", `translate(${c.x0},0)`)
    .call(d3.axisLeft(y).tickValues(d3.range(lo, hi + 1e-6, p.minor)).tickSizeInner(-6).tickSizeOuter(0).tickFormat(""))
    .call(styleAxis);
  g.append("g").attr("transform", `translate(${c.x0},0)`)
    .call(d3.axisLeft(y).tickValues(p.ticks).tickSizeInner(-13).tickSizeOuter(0).tickPadding(15).tickFormat(d => String(d)))
    .call(styleAxis);

  g.append("rect").attr("x", c.x0).attr("y", r.y0)
    .attr("width", c.x1 - c.x0).attr("height", r.y1 - r.y0)
    .attr("fill", "none").attr("stroke", "#000").attr("stroke-width", 2);

  if (p.title) {
    g.append("text")
      .attr("transform", `translate(39,${(r.y0 + r.y1) / 2}) rotate(-90)`)
      .attr("text-anchor", "middle").attr("font-size", 31)
      .text(p.title);
  }
});

// panel headings
svg.append("text").attr("x", 456).attr("y", 86).attr("text-anchor", "middle")
  .attr("font-size", 33).attr("textLength", 475).attr("lengthAdjust", "spacingAndGlyphs")
  .text("(a) PA01 (black) vs. PA07 (red)");
svg.append("text").attr("x", 1206).attr("y", 86).attr("text-anchor", "middle")
  .attr("font-size", 33).attr("textLength", 481).attr("lengthAdjust", "spacingAndGlyphs")
  .text("(b) PA03 (black) vs. PA05 (red)");

svg.append("text").attr("x", 547).attr("y", 816).attr("text-anchor", "middle")
  .attr("font-size", 26).attr("textLength", 491).attr("lengthAdjust", "spacingAndGlyphs")
  .text("Distance between Pa01  and PA07: 4.5 km");
svg.append("text").attr("x", 1364).attr("y", 816).attr("text-anchor", "middle")
  .attr("font-size", 26).attr("textLength", 494).attr("lengthAdjust", "spacingAndGlyphs")
  .text("Distance between PA03 and PA05: 4.2 km");

// x titles
[0, 1].forEach(k => {
  svg.append("text").attr("x", (cols[k].x0 + cols[k].x1) / 2).attr("y", 1200)
    .attr("text-anchor", "middle").attr("font-size", 31)
    .attr("textLength", 234).attr("lengthAdjust", "spacingAndGlyphs")
    .text("Year (1994-2013)");
});

// yellow label
svg.append("rect").attr("x", 569).attr("y", 897).attr("width", 228).attr("height", 79).attr("fill", "#ffff00");
svg.append("text").attr("x", 683).attr("y", 955).attr("text-anchor", "middle")
  .attr("font-size", 47).attr("textLength", 180).attr("lengthAdjust", "spacingAndGlyphs")
  .style("fill", "#000")
  .text("15-years");
</script>
</body>
</html>
